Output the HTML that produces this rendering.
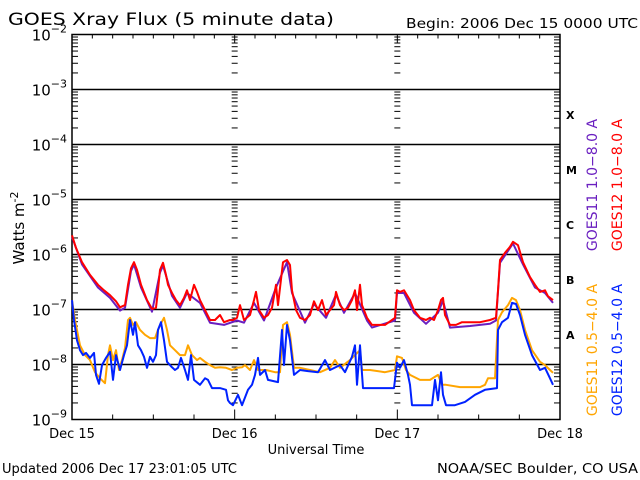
<!DOCTYPE html>
<html><head><meta charset="utf-8"><style>
body{margin:0;background:#fff;width:640px;height:480px;overflow:hidden}
svg{display:block}
text{font-family:"DejaVu Sans","Liberation Sans",sans-serif}
</style></head><body>
<svg id="chart" width="640" height="480" xmlns="http://www.w3.org/2000/svg">
<rect width="640" height="480" fill="#fff"/>
<g id="axes"></g>
<g id="series"></g>
<text x="8" y="25" font-size="17" textLength="326" lengthAdjust="spacingAndGlyphs">GOES Xray Flux (5 minute data)</text>
<text x="406" y="28" font-size="13" textLength="232" lengthAdjust="spacingAndGlyphs">Begin:  2006 Dec 15 0000 UTC</text>
<text transform="translate(24,228) rotate(-90)" text-anchor="middle" font-size="15">Watts m<tspan dy="-6" font-size="11">-2</tspan></text>
<text x="316" y="454" text-anchor="middle" font-size="13">Universal Time</text>
<text x="2" y="473" font-size="13">Updated 2006 Dec 17 23:01:05 UTC</text>
<text x="437" y="473" font-size="13" textLength="201" lengthAdjust="spacingAndGlyphs">NOAA/SEC Boulder, CO USA</text>
<g font-family="Liberation Serif,serif" font-weight="bold" font-size="11">
<text x="566" y="119">X</text>
<text x="566" y="174">M</text>
<text x="566" y="229">C</text>
<text x="566" y="284">B</text>
<text x="566" y="339">A</text>
</g>
<text transform="translate(597,185) rotate(-90)" text-anchor="middle" font-size="14" fill="#6a1fc0">GOES11 1.0−8.0 A</text>
<text transform="translate(622,185) rotate(-90)" text-anchor="middle" font-size="14" fill="#ff0000">GOES12 1.0−8.0 A</text>
<text transform="translate(597,350) rotate(-90)" text-anchor="middle" font-size="14" fill="#ffa500">GOES11 0.5−4.0 A</text>
<text transform="translate(622,350) rotate(-90)" text-anchor="middle" font-size="14" fill="#0022ff">GOES12 0.5−4.0 A</text>
</svg>
<script>
// [hours since Dec 15 00:00 UTC, log10 flux (W m^-2)]
const dayLabels = ["Dec 15","Dec 16","Dec 17","Dec 18"];
const decadeExps = [-2,-3,-4,-5,-6,-7,-8,-9];
const goes12Long = [[0,-5.65],[0.59,-5.88],[1.48,-6.14],[2.66,-6.37],[3.84,-6.55],[4.72,-6.65],[5.61,-6.74],[6.49,-6.85],[7.08,-6.96],[7.82,-6.92],[8.26,-6.55],[8.7,-6.25],[9.15,-6.14],[9.59,-6.28],[10.18,-6.55],[11.07,-6.83],[11.8,-6.99],[12.39,-6.97],[12.69,-6.65],[12.98,-6.28],[13.43,-6.15],[13.87,-6.37],[14.16,-6.55],[14.75,-6.7],[15.34,-6.83],[15.93,-6.92],[16.52,-6.79],[16.97,-6.65],[17.41,-6.83],[18.0,-6.55],[18.44,-6.68],[18.88,-6.83],[19.62,-7.01],[20.36,-7.19],[21.1,-7.19],[21.84,-7.1],[22.43,-7.23],[23.31,-7.19],[23.75,-7.19],[24.34,-7.15],[24.79,-6.92],[25.38,-7.19],[26.26,-7.1],[26.85,-6.83],[27.15,-6.68],[27.59,-7.01],[28.33,-7.15],[28.92,-7.1],[29.51,-6.97],[30.1,-6.55],[30.39,-6.92],[31.13,-6.14],[31.72,-6.1],[32.16,-6.19],[32.46,-6.65],[33.05,-7.01],[33.64,-7.15],[34.38,-7.19],[35.11,-7.1],[35.7,-6.85],[36.29,-7.01],[36.88,-6.83],[37.47,-7.1],[38.06,-7.01],[38.65,-6.92],[38.95,-6.68],[39.54,-6.92],[40.13,-7.01],[40.72,-6.97],[41.31,-6.83],[41.75,-6.65],[42.05,-7.01],[42.49,-6.55],[42.79,-6.92],[43.52,-7.15],[44.26,-7.28],[45.15,-7.28],[46.18,-7.28],[47.65,-7.15],[47.95,-6.65],[48.39,-6.68],[48.98,-6.65],[49.87,-6.83],[50.46,-7.01],[51.34,-7.15],[52.23,-7.19],[52.82,-7.15],[53.41,-7.19],[54.0,-7.01],[54.44,-6.83],[54.74,-6.79],[55.03,-7.1],[55.77,-7.28],[56.65,-7.28],[57.54,-7.23],[58.72,-7.23],[60.2,-7.23],[61.67,-7.19],[62.56,-7.15],[62.85,-6.65],[63.15,-6.1],[63.88,-5.97],[64.62,-5.86],[65.06,-5.77],[65.8,-5.83],[66.54,-6.14],[67.57,-6.41],[68.31,-6.55],[69.05,-6.68],[69.79,-6.65],[70.23,-6.76],[70.97,-6.83]];
const goes11Long = [[0,-5.68],[1.48,-6.18],[3.84,-6.6],[5.61,-6.79],[7.08,-7.02],[7.82,-6.97],[8.7,-6.3],[9.15,-6.18],[10.18,-6.6],[11.8,-7.04],[12.98,-6.33],[13.43,-6.2],[14.75,-6.75],[15.93,-6.97],[16.97,-6.7],[18.88,-6.88],[20.36,-7.24],[22.43,-7.28],[24.34,-7.2],[25.38,-7.24],[26.85,-6.88],[28.33,-7.2],[30.1,-6.6],[31.72,-6.14],[32.46,-6.7],[34.38,-7.24],[35.7,-6.9],[37.47,-7.15],[38.95,-6.73],[40.13,-7.06],[41.75,-6.7],[43.52,-7.2],[44.26,-7.33],[47.65,-7.2],[47.95,-6.7],[48.98,-6.7],[50.46,-7.06],[52.23,-7.26],[54.0,-7.06],[54.74,-6.84],[55.77,-7.33],[58.72,-7.3],[61.67,-7.26],[62.56,-7.2],[63.15,-6.15],[65.06,-5.8],[66.54,-6.18],[68.31,-6.6],[69.79,-6.7],[70.97,-6.88]];
const goes11Short = [[0,-6.83],[0.44,-7.19],[1.18,-7.65],[1.92,-7.83],[2.66,-7.92],[3.39,-8.14],[4.13,-8.25],[4.87,-8.34],[5.31,-7.83],[5.61,-7.65],[6.05,-7.92],[6.49,-7.74],[6.93,-8.1],[7.38,-7.92],[7.82,-7.7],[8.26,-7.19],[8.56,-7.15],[9.0,-7.28],[9.44,-7.23],[10.03,-7.37],[10.77,-7.46],[11.51,-7.52],[12.25,-7.52],[12.69,-7.37],[13.13,-7.25],[13.57,-7.15],[14.02,-7.37],[14.46,-7.65],[15.2,-7.74],[15.93,-7.83],[16.67,-7.83],[17.11,-7.65],[17.7,-7.83],[18.44,-7.92],[18.88,-7.88],[19.62,-7.95],[20.36,-8.01],[21.1,-8.06],[21.84,-8.05],[22.72,-8.06],[23.6,-8.1],[24.34,-8.06],[25.08,-8.05],[25.52,-8.01],[26.26,-8.1],[26.85,-7.92],[27.44,-8.1],[28.62,-8.1],[29.95,-8.14],[30.69,-8.14],[31.13,-7.28],[31.72,-7.23],[32.16,-7.46],[32.75,-8.06],[33.64,-8.06],[35.11,-8.1],[36.59,-8.14],[38.06,-8.06],[38.8,-7.92],[39.54,-8.06],[41.01,-7.92],[41.75,-7.83],[42.49,-7.74],[42.79,-8.1],[43.97,-8.1],[46.18,-8.14],[47.65,-8.1],[47.95,-7.85],[48.69,-7.88],[49.28,-8.1],[49.87,-8.19],[51.34,-8.28],[52.82,-8.28],[54.0,-8.19],[54.59,-8.37],[55.18,-8.37],[57.24,-8.41],[60.2,-8.41],[60.93,-8.37],[61.38,-8.25],[62.41,-8.25],[62.85,-7.19],[63.44,-7.05],[64.33,-6.92],[64.92,-6.79],[65.51,-6.83],[66.1,-7.01],[66.84,-7.37],[67.87,-7.74],[69.05,-7.95],[69.79,-8.01],[70.52,-8.1],[70.97,-8.15]];
const goes12Short = [[0,-6.83],[0.3,-7.19],[0.74,-7.56],[1.18,-7.74],[1.62,-7.83],[2.07,-7.79],[2.66,-7.88],[3.25,-7.79],[3.54,-8.19],[3.98,-8.35],[4.43,-8.01],[5.02,-7.88],[5.61,-7.77],[6.05,-8.28],[6.49,-7.83],[7.08,-8.1],[7.67,-7.83],[8.11,-7.65],[8.56,-7.19],[9.0,-7.46],[9.29,-7.23],[9.74,-7.65],[10.18,-7.74],[10.62,-7.86],[11.07,-8.06],[11.51,-7.86],[11.95,-7.95],[12.39,-7.83],[12.69,-7.37],[13.13,-7.23],[13.57,-7.56],[14.02,-7.95],[14.75,-8.05],[15.2,-8.1],[15.64,-8.06],[16.08,-7.88],[16.67,-8.1],[17.11,-8.28],[17.56,-7.83],[18.0,-8.28],[18.88,-8.37],[19.62,-8.25],[20.07,-8.28],[20.66,-8.43],[21.84,-8.43],[22.72,-8.46],[23.02,-8.65],[23.31,-8.7],[23.75,-8.74],[24.49,-8.55],[25.08,-8.74],[25.97,-8.46],[26.56,-8.37],[27.0,-8.19],[27.44,-7.88],[27.74,-8.19],[28.48,-8.1],[28.92,-8.28],[30.39,-8.32],[30.98,-7.37],[31.28,-8.01],[31.72,-7.28],[32.16,-7.56],[32.75,-8.19],[33.64,-8.1],[34.82,-8.12],[36.29,-8.14],[37.33,-7.92],[38.06,-8.1],[39.54,-8.01],[40.28,-8.14],[41.31,-7.86],[41.75,-7.65],[42.05,-8.37],[42.49,-7.65],[42.93,-8.43],[43.97,-8.43],[47.51,-8.43],[47.95,-7.97],[48.39,-8.06],[48.98,-7.92],[49.57,-8.19],[49.87,-8.37],[50.16,-8.74],[53.11,-8.74],[53.56,-8.28],[54.0,-8.65],[54.44,-8.14],[54.74,-8.55],[55.18,-8.74],[56.5,-8.74],[57.98,-8.68],[59.46,-8.55],[60.93,-8.46],[62.7,-8.43],[62.85,-7.37],[63.44,-7.23],[64.33,-7.15],[64.92,-6.88],[65.51,-6.9],[66.1,-7.1],[66.84,-7.46],[67.87,-7.83],[69.05,-8.1],[69.79,-8.06],[70.52,-8.25],[70.97,-8.37]];

const svgNS = "http://www.w3.org/2000/svg";
const X0 = 72, X1 = 560, Y0 = 34.5, DEC = 55;
const xs = h => X0 + (X1 - X0) * h / 72;
const ys = v => Y0 + (-2 - v) * DEC;
function mk(tag, attrs, parent){const e=document.createElementNS(svgNS,tag);for(const k in attrs)e.setAttribute(k,attrs[k]);parent.appendChild(e);return e;}
const axes = document.getElementById('axes');
const series = document.getElementById('series');

const frame = mk('rect',{x:X0,y:Y0,width:X1-X0,height:DEC*7,fill:'none',stroke:'#000','stroke-width':1.5},axes);



decadeExps.forEach((e)=>{
  const y = ys(e);
  if(e<-2 && e>-9){
    const gl = mk('line',{x1:X0,x2:X1,y1:y,y2:y,stroke:'#000','stroke-width':1.5},axes);
    
    
  }
  const t = mk('text',{x:X0-5,y:y+6,'text-anchor':'end','font-size':15},axes);
  
  
  t.textContent='10';
  const sp = mk('tspan',{dy:-8,'font-size':11},t);
  sp.textContent=String(e).replace('-','−');
  if(e>-9){
    for(let m=2;m<=9;m++){
      const yy = ys(e-1+Math.log10(m));
      [[X0,X0+6],[xs(24)-3,xs(24)+3],[xs(48)-3,xs(48)+3],[X1-6,X1]].forEach(([a,b])=>{
        const tk = mk('line',{x1:a,x2:b,y1:yy,y2:yy,stroke:'#000','stroke-width':1},axes);
        
        
      });
    }
  }
});
for(let h=0;h<=72;h+=3){
  const x = xs(h);
  const t1 = mk('line',{x1:x,x2:x,y1:Y0,y2:Y0+(h%24===0?8:4),stroke:'#000','stroke-width':1},axes);
  
  
  if(h%6===0){
    const t2 = mk('line',{x1:x,x2:x,y1:Y0+DEC*7,y2:Y0+DEC*7-(h%24===0?10:5),stroke:'#000','stroke-width':1},axes);
    
    
  }
}
dayLabels.forEach((d,i)=>{
  const t = mk('text',{x:xs(i*24),y:438,'text-anchor':'middle','font-size':13},axes);
  
  
  t.textContent=d;
});

function line(pts,color,name,w){
  const d = pts.map((p,i)=>(i?'L':'M')+xs(p[0]).toFixed(1)+','+ys(p[1]).toFixed(1)).join('');
  const p = mk('path',{d:d,fill:'none',stroke:color,'stroke-width':w,'stroke-linejoin':'round'},series);
  
  
}
line(goes11Short,'#ffa500','series-goes11-short',2);
line(goes12Short,'#0022ff','series-goes12-short',2);
line(goes11Long,'#6a1fc0','series-goes11-long',2);
line(goes12Long,'#ff0000','series-goes12-long',2);
</script>
</body></html>
